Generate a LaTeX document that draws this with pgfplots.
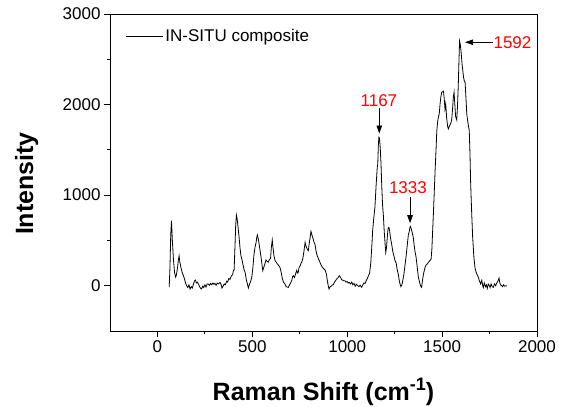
\documentclass[border=0pt]{standalone}
\usepackage{pgfplots}
\pgfplotsset{compat=1.18}
\usepackage{fontspec}
\setmainfont{Liberation Sans}
\usetikzlibrary{arrows.meta}
\pgfplotstableread{
x y
62 -15
66 200
70 560
74 718
78 520
84 300
90 150
96 95
100 120
106 200
110 280
114 330
118 260
124 200
130 150
137 110
142 80
148 30
154 0
160 -20
166 10
172 -36
178 -10
184 -25
190 20
196 55
200 63
205 30
210 40
216 18
222 -10
228 -30
233 -36
238 -5
244 -20
250 10
256 -15
262 20
268 18
274 5
280 25
286 10
292 30
298 15
303 26
309 5
315 30
321 20
330 36
336 10
340 -26
346 -5
352 20
358 10
365 50
370 40
376 80
382 70
390 110
396 120
400 166
404 175
408 400
412 650
416 781
420 740
425 640
430 540
435 420
440 330
444 300
450 240
456 180
462 147
468 70
474 20
479 -26
484 10
490 40
497 92
503 200
508 330
514 423
520 480
524 540
527 560
531 520
535 470
540 400
545 330
550 250
555 166
560 200
566 240
572 284
578 270
584 260
590 290
596 300
600 420
605 505
609 420
614 330
620 276
626 260
632 240
640 220
646 200
652 150
658 80
664 40
672 18
678 -10
684 -15
690 -18
696 10
702 30
708 60
712 100
716 110
722 90
728 130
734 170
738 140
742 147
746 200
752 220
757 250
760 260
766 300
772 380
778 479
784 430
790 400
795 387
800 470
805 540
809 600
814 560
820 520
825 480
830 460
836 380
842 330
848 300
853 276
860 240
867 210
875 190
883 173
890 130
895 60
900 0
904 -36
910 -10
916 -5
922 10
927 11
933 40
940 60
947 80
952 90
958 110
964 95
970 70
976 60
982 55
988 55
994 40
1000 45
1006 30
1011 36
1018 20
1024 40
1030 10
1036 25
1042 -5
1048 15
1056 0
1062 -10
1068 5
1076 -18
1082 10
1088 30
1094 25
1100 55
1106 80
1112 110
1118 140
1124 250
1130 450
1134 608
1140 750
1146 865
1152 1100
1158 1300
1161 1345
1164 1550
1167 1640
1170 1630
1174 1520
1178 1350
1182 1100
1186 900
1190 792
1195 600
1200 450
1203 368
1207 420
1212 560
1216 640
1220 644
1224 600
1228 530
1234 460
1240 380
1246 330
1252 276
1258 250
1263 180
1269 129
1274 60
1278 20
1283 -11
1288 10
1293 60
1299 129
1304 220
1310 320
1317 460
1322 560
1327 600
1330 640
1333 655
1337 630
1341 600
1345 560
1348 534
1352 460
1357 380
1363 313
1369 200
1375 92
1380 50
1386 0
1392 -18
1398 80
1404 150
1410 202
1416 230
1422 240
1427 257
1432 270
1437 280
1442 295
1446 400
1450 600
1454 792
1458 1000
1463 1271
1468 1500
1472 1713
1476 1800
1480 1860
1485 1900
1489 2000
1493 2081
1498 2136
1502 2140
1507 2147
1511 2070
1515 1950
1519 2008
1524 1850
1529 1760
1533 1732
1538 1760
1543 1780
1547 1800
1551 1842
1555 1950
1559 2080
1563 2136
1567 2000
1571 1870
1577 1831
1581 1980
1585 2200
1589 2500
1592 2700
1596 2660
1600 2580
1605 2450
1609 2376
1613 2300
1617 2260
1621 2247
1625 2100
1630 1897
1636 1800
1643 1713
1647 1450
1650 1160
1655 850
1661 534
1667 330
1673 202
1679 150
1685 120
1691 92
1697 50
1703 20
1709 60
1714 0
1717 -20
1722 30
1728 -10
1733 10
1738 -30
1743 18
1748 5
1753 -20
1758 20
1764 -10
1770 -18
1776 20
1782 0
1788 30
1794 50
1800 85
1804 30
1808 10
1814 0
1819 -10
1824 10
1830 -5
1837 0
1840 -5
}\spectrum
\begin{document}
\begin{tikzpicture}
\begin{axis}[
  name=ax,
  scale only axis,
  width=427bp, height=317bp,
  xmin=-250, xmax=2000,
  ymin=-500, ymax=3000,
  xtick={0,500,1000,1500,2000},
  ytick={0,1000,2000,3000},
  minor x tick num=1,
  minor y tick num=1,
  xtick pos=left, ytick pos=left,
  tick align=outside,
  major tick length=6bp,
  minor tick length=3bp,
  axis line style={line width=0.9bp},
  every tick/.style={line width=0.9bp, black},
  /pgf/number format/assume math mode=true,
  /pgf/number format/1000 sep={},
  tick label style={font=\fontsize{17bp}{20bp}\selectfont},
  xlabel={Raman Shift (cm\raisebox{0.42em}{\fontsize{18bp}{20bp}\selectfont\bfseries -1})},
  ylabel={Intensity},
  xlabel style={font=\fontsize{25bp}{30bp}\selectfont\bfseries, at={(axis description cs:0.5,0)}, anchor=base, yshift=-69.7bp},
  ylabel style={font=\fontsize{25bp}{30bp}\selectfont\bfseries, at={(axis description cs:-0.1803,0.465)}, anchor=base, rotate=0},
  legend style={draw=none, fill=none, at={(axis description cs:0.035,0.93)}, anchor=west,
    font=\fontsize{17bp}{20bp}\selectfont, inner sep=0pt, nodes={inner sep=2.5bp}},
  legend cell align=left,
  legend image code/.code={\draw[#1] (0bp,0bp) -- (37bp,0bp);},
  clip=false,
]
\addplot[black, line width=0.8bp] table[x=x,y=y] {\spectrum};
\addlegendentry{IN-SITU composite}
\draw[black, line width=0.8bp, -{Triangle[length=8bp,width=5.5bp]}] (axis cs:1169,1966) -- (axis cs:1169,1680);
\node[red, anchor=base, font=\fontsize{17bp}{20bp}\selectfont, inner sep=0pt] at (axis cs:1167,1978) {1167};
\draw[black, line width=0.8bp, -{Triangle[length=8bp,width=5.5bp]}] (axis cs:1331,983) -- (axis cs:1331,690);
\node[red, anchor=base, font=\fontsize{17bp}{20bp}\selectfont, inner sep=0pt] at (axis cs:1320,1020) {1333};
\draw[black, line width=0.8bp, -{Triangle[length=8bp,width=5.5bp]}] (axis cs:1767,2688) -- (axis cs:1621,2688);
\node[red, anchor=base west, font=\fontsize{17bp}{20bp}\selectfont, inner sep=0pt] at (axis cs:1770,2615) {1592};
\end{axis}
\pgfresetboundingbox
\path ([shift={(-110bp,-76bp)}]ax.south west) rectangle ([shift={(24bp,14bp)}]ax.north east);
\end{tikzpicture}
\end{document}
